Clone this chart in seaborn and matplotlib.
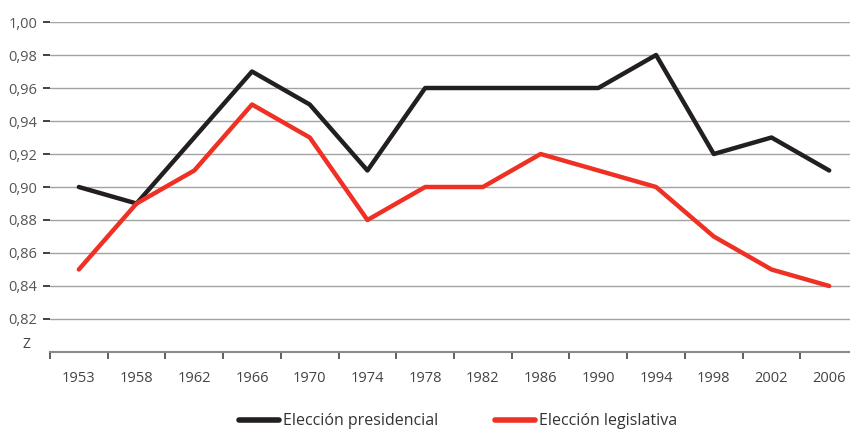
import matplotlib
matplotlib.use("Agg")
import matplotlib.pyplot as plt
import seaborn as sns
import pandas as pd
from matplotlib.lines import Line2D

years = ["1953", "1958", "1962", "1966", "1970", "1974", "1978",
         "1982", "1986", "1990", "1994", "1998", "2002", "2006"]
presidencial = [0.90, 0.89, 0.93, 0.97, 0.95, 0.91, 0.96,
                0.96, 0.96, 0.96, 0.98, 0.92, 0.93, 0.91]
legislativa = [0.85, 0.89, 0.91, 0.95, 0.93, 0.88, 0.90,
               0.90, 0.92, 0.91, 0.90, 0.87, 0.85, 0.84]
series_names = ["Elección presidencial", "Elección legislativa"]
yticks = [0.82, 0.84, 0.86, 0.88, 0.90, 0.92, 0.94, 0.96, 0.98, 1.00]

df = pd.DataFrame({
    "year": years * 2,
    "value": presidencial + legislativa,
    "serie": [series_names[0]] * len(years) + [series_names[1]] * len(years),
})

sns.set_style("white")
plt.rcParams["font.family"] = ["Open Sans", "DejaVu Sans"]
plt.rcParams["xtick.bottom"] = True
plt.rcParams["ytick.left"] = True

fig = plt.figure(figsize=(8.5, 4.29), dpi=100)
ax = fig.add_axes([0.0588, 0.1795, 0.9412, 0.7692])

palette = {series_names[0]: "#231f20", series_names[1]: "#ee3124"}
sns.lineplot(data=df, x="year", y="value", hue="serie", palette=palette,
             sort=False, linewidth=3.2, ax=ax, legend=False)

ax.set_xlim(-0.5, 13.36)
ax.set_ylim(0.80, 1.00)
ax.set_yticks(yticks)
ax.set_yticklabels([f"{v:.2f}".replace(".", ",") for v in yticks])
ax.yaxis.grid(True, color="#a3a3a3", linewidth=1.0)
ax.set_axisbelow(True)
ax.set_xticks(range(len(years)))
ax.set_xticklabels(years)
ax.set_xticks([i - 0.5 for i in range(len(years))], minor=True)
ax.tick_params(axis="x", which="major", bottom=True, length=0, pad=14,
               labelsize=10.5, labelcolor="#444444")
ax.tick_params(axis="x", which="minor", bottom=True, length=5, width=1.2,
               color="#444444", direction="out")
ax.tick_params(axis="y", which="major", left=True, length=5, width=1.3,
               color="#333333", direction="out", pad=4,
               labelsize=10.5, labelcolor="#555555")
for s in ["top", "right", "left"]:
    ax.spines[s].set_visible(False)
ax.spines["bottom"].set_color("#8a8a8a")
ax.spines["bottom"].set_linewidth(1.5)
ax.set_xlabel("")
ax.set_ylabel("")

fig.text(0.031, 0.197, "Z", fontsize=10, color="#444444", ha="center", va="center")

handles = [Line2D([0], [0], color=palette[n], linewidth=4, solid_capstyle="round")
           for n in series_names]
fig.legend(handles, series_names, loc="center", bbox_to_anchor=(0.539, 0.018),
           ncol=2, frameon=False, handlelength=2.5, handletextpad=0.25,
           columnspacing=3.6, fontsize=11.5, labelcolor="#333333")

fig.savefig("out.png", dpi=100)
